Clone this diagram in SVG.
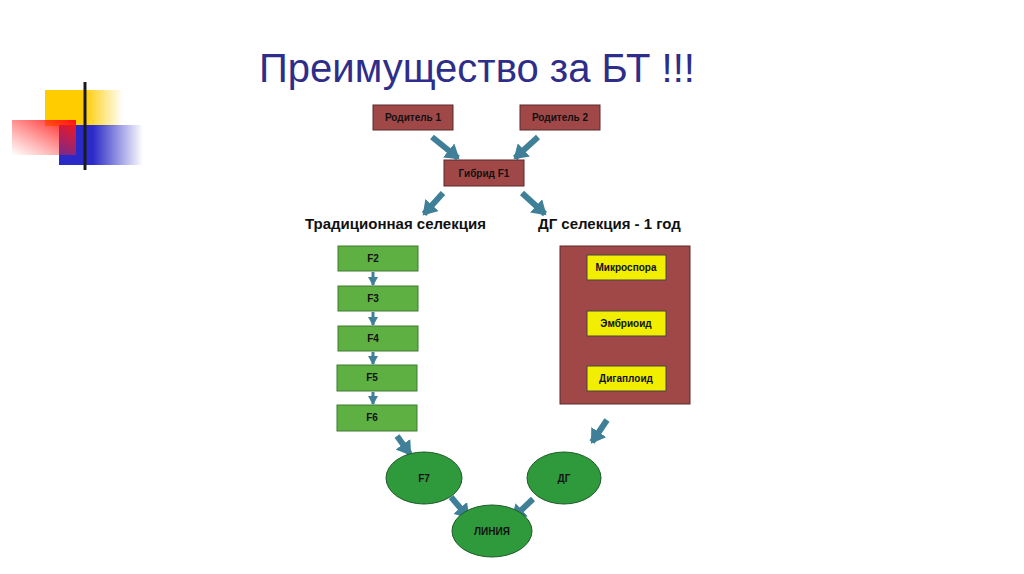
<svg xmlns="http://www.w3.org/2000/svg" width="1024" height="574" viewBox="0 0 1024 574">
<style>
.t{font-family:"Liberation Sans",Arial,sans-serif;font-weight:bold;font-size:10px;fill:#111;text-anchor:middle}
.big{font-family:"Liberation Sans",Arial,sans-serif;font-size:15px;fill:#111}
.rb{fill:#a04848;stroke:#5a2a2a;stroke-width:1}
.gb{fill:#5fb043;stroke:#3f7a30;stroke-width:1}
.yb{fill:#f2ee00;stroke:#444;stroke-width:1}
.el{fill:#2f9a3c;stroke:#1f5a28;stroke-width:1}
.ar{stroke:#3f8098;fill:none;stroke-width:6;marker-end:url(#h)}
.sa{stroke:#3f8098;fill:none;stroke-width:3;marker-end:url(#hs)}
.va{stroke:#3f8098;fill:none;stroke-width:7;marker-end:url(#hv)}
</style>
<defs>
<marker id="h" markerUnits="userSpaceOnUse" markerWidth="18" markerHeight="18" refX="12" refY="9" orient="auto"><path d="M0,0 L14,9 L0,18 Z" fill="#3f8098"/></marker>
<marker id="hs" markerUnits="userSpaceOnUse" markerWidth="10" markerHeight="10" refX="8" refY="5" orient="auto"><path d="M0,0 L9,5 L0,10 Z" fill="#3f8098"/></marker>
<marker id="hv" markerUnits="userSpaceOnUse" markerWidth="18" markerHeight="20" refX="12" refY="10" orient="auto"><path d="M0,0 L13,10 L0,20 Z" fill="#3f8098"/></marker>
<linearGradient id="gy" x1="0" x2="1"><stop offset="0.5" stop-color="#ffcc00"/><stop offset="1" stop-color="#ffcc00" stop-opacity="0"/></linearGradient>
<linearGradient id="gr" x1="1" x2="0" y1="0" y2="1"><stop offset="0" stop-color="#ff1010"/><stop offset="1" stop-color="#ff3030" stop-opacity="0"/></linearGradient>
<linearGradient id="gb2" x1="0" x2="1"><stop offset="0.4" stop-color="#2a2ac8"/><stop offset="1" stop-color="#2a2ac8" stop-opacity="0"/></linearGradient>
<linearGradient id="gl" x1="0" x2="1"><stop offset="0" stop-color="#222"/><stop offset="1" stop-color="#888"/></linearGradient>
<linearGradient id="gl2" x1="0" x2="1"><stop offset="0" stop-color="#bbb"/><stop offset="1" stop-color="#eee"/></linearGradient>
</defs>
<rect width="1024" height="574" fill="#fff"/>
<g id="deco">
<rect x="45" y="90" width="78" height="36" fill="url(#gy)"/>
<rect x="59" y="125" width="84" height="40" fill="url(#gb2)"/>
<rect x="12" y="120" width="64" height="35" fill="url(#gr)"/>
<line x1="85" y1="82" x2="85" y2="170" stroke="#1a1a1a" stroke-width="3"/>
<line x1="48" y1="149" x2="305" y2="149" stroke="url(#gl)" stroke-width="3"/>
<line x1="712" y1="149" x2="976" y2="149" stroke="url(#gl2)" stroke-width="3"/>
</g>
<text x="477" y="82" font-family="'Liberation Sans',Arial,sans-serif" font-size="40" fill="#2e2e8a" text-anchor="middle">Преимущество за БТ !!!</text>
<g id="connectors">
<line class="ar" x1="432" y1="137" x2="458" y2="158"/>
<line class="ar" x1="538" y1="137" x2="515" y2="158"/>
<line class="ar" x1="443" y1="193" x2="424" y2="214"/>
<line class="ar" x1="522" y1="193" x2="545" y2="214"/>
<line class="sa" x1="373" y1="272" x2="373" y2="285"/>
<line class="sa" x1="373" y1="312" x2="373" y2="325"/>
<line class="sa" x1="373" y1="352" x2="373" y2="364"/>
<line class="sa" x1="373" y1="392" x2="373" y2="404"/>
<line class="va" x1="622" y1="281" x2="622" y2="307"/>
<line class="va" x1="622" y1="337" x2="622" y2="363"/>
<line class="ar" x1="397" y1="436" x2="410" y2="454"/>
<line class="ar" x1="607" y1="420" x2="592" y2="442"/>
<line class="ar" x1="451" y1="497" x2="468" y2="517"/>
<line class="ar" x1="533" y1="499" x2="513" y2="518"/>
</g>
<g id="p1"><rect class="rb" x="373" y="105" width="80" height="25"/><text class="t" x="413" y="121">Родитель 1</text></g>
<g id="p2"><rect class="rb" x="520" y="105" width="80" height="25"/><text class="t" x="560" y="121">Родитель 2</text></g>
<g id="f1"><rect class="rb" x="444" y="160" width="80" height="26"/><text class="t" x="484" y="177">Гибрид F1</text></g>
<text class="big" x="305" y="229" font-weight="bold" font-size="13.5">Традиционная селекция</text>
<text class="big" x="538" y="229" font-weight="bold" font-size="13.5">ДГ селекция - 1 год</text>
<g id="f2"><rect class="gb" x="338" y="246" width="80" height="25"/><text class="t" x="373" y="262">F2</text></g>
<g id="f3"><rect class="gb" x="338" y="286" width="80" height="25"/><text class="t" x="373" y="302">F3</text></g>
<g id="f4"><rect class="gb" x="338" y="326" width="80" height="25"/><text class="t" x="373" y="342">F4</text></g>
<g id="f5"><rect class="gb" x="337" y="365" width="80" height="26"/><text class="t" x="372" y="381">F5</text></g>
<g id="f6"><rect class="gb" x="337" y="405" width="80" height="26"/><text class="t" x="372" y="421">F6</text></g>
<g id="dh"><rect class="rb" x="560" y="246" width="130" height="158"/></g>
<g id="m"><rect class="yb" x="587" y="255" width="79" height="25"/><text class="t" x="626" y="271">Микроспора</text></g>
<g id="e"><rect class="yb" x="587" y="311" width="79" height="25"/><text class="t" x="626" y="327">Эмбриоид</text></g>
<g id="d"><rect class="yb" x="587" y="366" width="79" height="25"/><text class="t" x="626" y="382">Дигаплоид</text></g>
<g id="f7"><ellipse class="el" cx="424" cy="478" rx="38" ry="26"/><text class="t" x="424" y="482">F7</text></g>
<g id="dg"><ellipse class="el" cx="564" cy="478" rx="37" ry="26"/><text class="t" x="564" y="482">ДГ</text></g>
<g id="ln"><ellipse class="el" cx="492" cy="531" rx="40" ry="26"/><text class="t" x="492" y="535">ЛИНИЯ</text></g>
</svg>
